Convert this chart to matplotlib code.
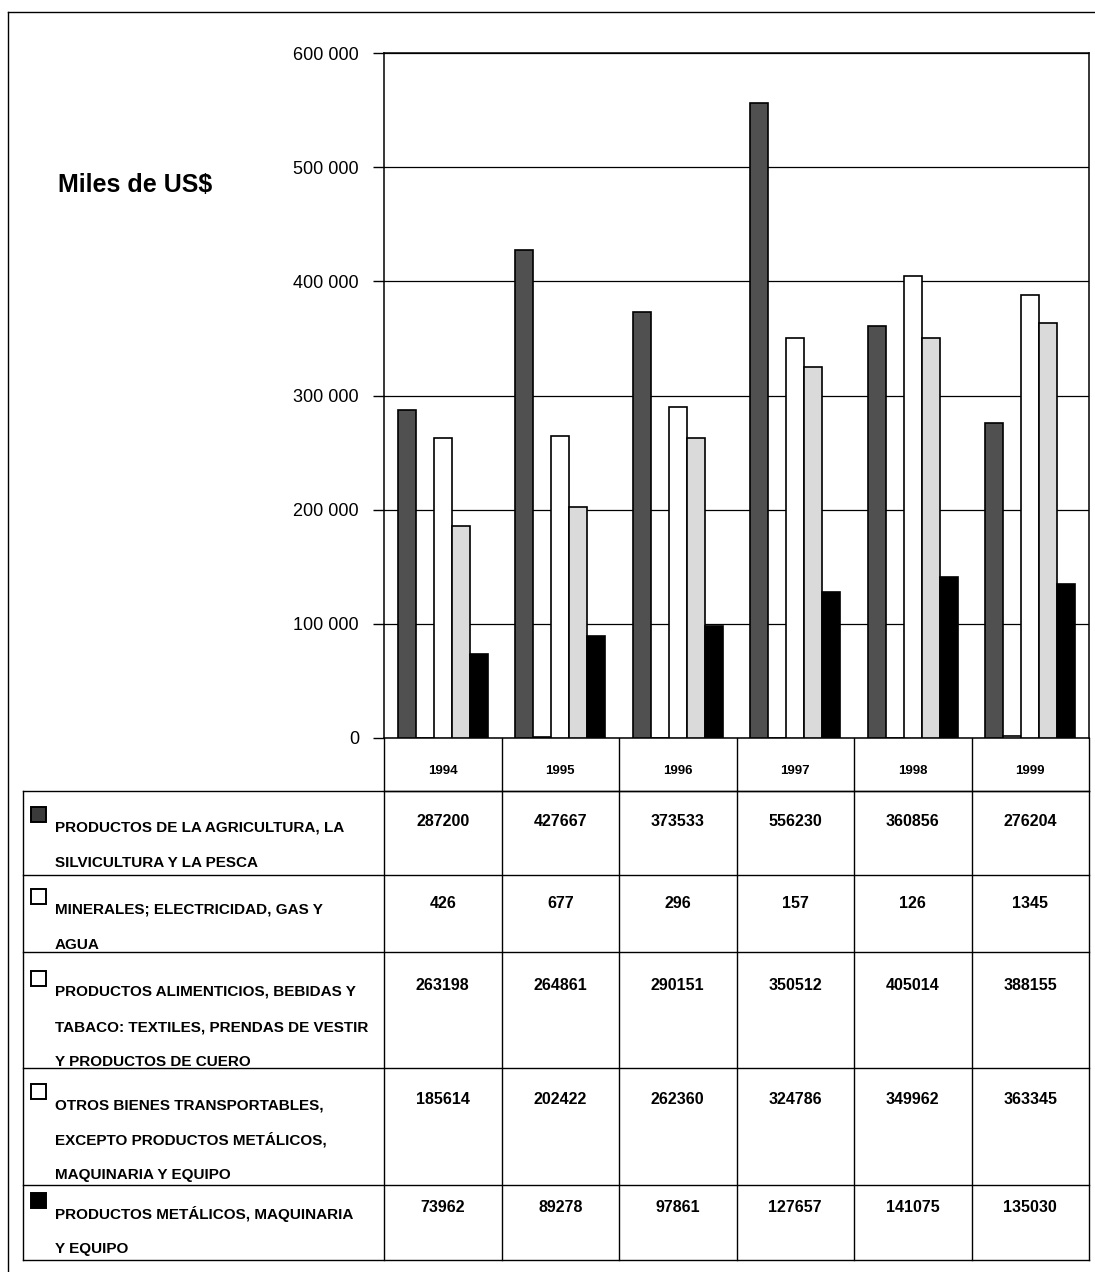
import numpy as np
import matplotlib
matplotlib.use("Agg")
import matplotlib.pyplot as plt
from matplotlib.patches import Rectangle

plt.rcParams['font.family'] = ['Liberation Sans', 'DejaVu Sans']

#==================================================================================================================
# data

years = ["1994", "1995", "1996", "1997", "1998", "1999"]

agricultura = [287200, 427667, 373533, 556230, 360856, 276204]
minerales = [426, 677, 296, 157, 126, 1345]
alimenticios = [263198, 264861, 290151, 350512, 405014, 388155]
otros_bienes = [185614, 202422, 262360, 324786, 349962, 363345]
metalicos = [73962, 89278, 97861, 127657, 141075, 135030]

series_labels = [
    ["PRODUCTOS DE LA AGRICULTURA, LA", "SILVICULTURA Y LA PESCA"],
    ["MINERALES; ELECTRICIDAD, GAS Y", "AGUA"],
    ["PRODUCTOS ALIMENTICIOS, BEBIDAS Y", "TABACO: TEXTILES, PRENDAS DE VESTIR", "Y PRODUCTOS DE CUERO"],
    ["OTROS BIENES TRANSPORTABLES,", "EXCEPTO PRODUCTOS METÁLICOS,", "MAQUINARIA Y EQUIPO"],
    ["PRODUCTOS METÁLICOS, MAQUINARIA", "Y EQUIPO"],
]

y_ticks = [0, 100000, 200000, 300000, 400000, 500000, 600000]

#==================================================================================================================

series = [agricultura, minerales, alimenticios, otros_bienes, metalicos]
colors = ["#505050", "white", "white", "#dadada", "black"]
legend_colors = ["#3a3a3a", "white", "white", "white", "black"]

W, H = 1095, 1272
fig = plt.figure(figsize=(W / 100, H / 100), dpi=100)

# pixel layout
ax_left, ax_right, ax_top, ax_bottom = 384, 1089, 53, 738
ax = fig.add_axes([ax_left / W, 1 - ax_bottom / H, (ax_right - ax_left) / W, (ax_bottom - ax_top) / H])

n = len(years)
bw = 0.153
x = np.arange(n) + 0.5
for k, vals in enumerate(series):
    ax.bar(x + (k - 2) * bw, vals, width=bw, color=colors[k], edgecolor="black", linewidth=1.2, zorder=3)

ax.set_xlim(0, n)
ax.set_ylim(0, 600000)
ax.set_yticks(y_ticks)
ax.set_yticklabels([f"{v:,}".replace(",", " ") for v in y_ticks], fontsize=13)
ax.set_xticks([])
ax.tick_params(axis="y", direction="out", length=8, width=1, pad=10)
ax.yaxis.grid(True, color="black", linewidth=0.9, zorder=0)
for s in ax.spines.values():
    s.set_linewidth(1.1)

fig.text(58 / W, 1 - 185 / H, "Miles de US$", fontsize=18, fontweight="bold", va="center", ha="left")

#==================================================================================================================
# table below

tab = fig.add_axes([0, 0, 1, 1], zorder=-1)
tab.set_xlim(0, W)
tab.set_ylim(H, 0)
tab.axis("off")

col_edges = np.linspace(ax_left, ax_right, n + 1)
head_top, head_bottom = ax_bottom, 791
row_tops = [791, 875, 952, 1068, 1185]
tab_bottom = 1260
tab_left = 23
first_line = [828, 910, 992, 1105, 1214]
line_gap = 35

lw = 1.0
# header
tab.plot([ax_left, ax_right], [head_bottom, head_bottom], color="black", lw=lw)
for xe in col_edges:
    tab.plot([xe, xe], [head_top, tab_bottom], color="black", lw=lw)
for i, yr in enumerate(years):
    tab.text((col_edges[i] + col_edges[i + 1]) / 2, (head_top + head_bottom) / 2 + 6, yr,
             fontsize=9.5, fontweight="bold", ha="center", va="center")

# rows
for yt in row_tops + [tab_bottom]:
    tab.plot([tab_left, ax_right], [yt, yt], color="black", lw=lw)
tab.plot([tab_left, tab_left], [row_tops[0], tab_bottom], color="black", lw=lw)

for r, vals in enumerate(series):
    y0 = first_line[r]
    tab.add_patch(Rectangle((31, y0 - 21), 15, 15, facecolor=legend_colors[r], edgecolor="black", lw=1.4))
    for j, txt in enumerate(series_labels[r]):
        tab.text(55, y0 + j * line_gap, txt, fontsize=11, fontweight="bold", ha="left", va="center")
    for i, v in enumerate(vals):
        tab.text((col_edges[i] + col_edges[i + 1]) / 2, y0 - 6, str(v), fontsize=11.5, fontweight="bold",
                 ha="center", va="center")

# outer frame
tab.plot([8, W], [12, 12], color="black", lw=1.0)
tab.plot([8, 8], [12, H], color="black", lw=1.0)

fig.savefig("out.png", dpi=100)
